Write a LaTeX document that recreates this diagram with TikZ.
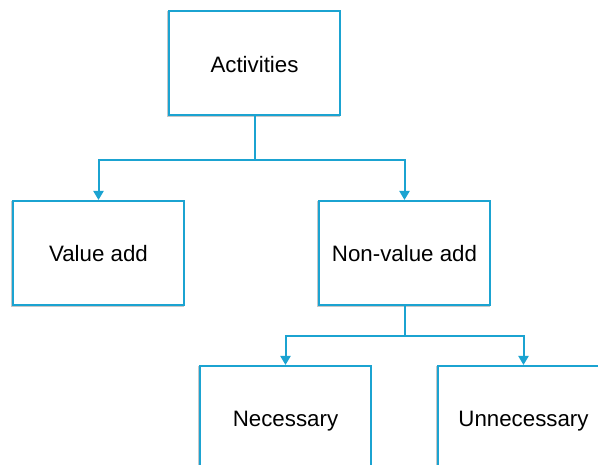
\documentclass[tikz,border=0pt]{standalone}
\usepackage{fontspec}
\setmainfont{Liberation Sans}
\usetikzlibrary{arrows.meta}
\definecolor{linkblue}{RGB}{27,163,209}
\tikzset{
  box/.style={draw=linkblue, line width=2pt, fill=white,
    minimum width=171pt, minimum height=104pt, inner sep=0pt,
    text height=17.5pt, text depth=0pt,
    font=\fontsize{22.3}{26}\selectfont,
    preaction={draw=black!22, line width=2pt,
      transform canvas={xshift=-1pt, yshift=-1pt}}},
  link/.style={draw=linkblue, line width=2pt,
    -{Triangle[width=10pt,length=9pt]}},
}
\begin{document}
\begin{tikzpicture}[x=1pt, y=-1pt]
  \useasboundingbox (0,0) rectangle (598,465);
  \clip (0,0) rectangle (598,465);
  \fill[white] (0,0) rectangle (598,465);

  % boxes of the activity breakdown
  \node[box] (act) at (254.5,63.5)  {Activities};
  \node[box] (va)  at (98.5,253)    {Value add};
  \node[box] (nva) at (404.5,253)   {Non-value add};
  \node[box] (nec) at (285.5,418)   {Necessary};
  \node[box] (unn) at (523.5,418)   {Unnecessary};

  % elbow connectors
  \draw[link] (act.south) -- ++(0,43.5) -| (va.north);
  \draw[link] (act.south) -- ++(0,43.5) -| (nva.north);
  \draw[link] (nva.south) -- ++(0,30.5) -| (nec.north);
  \draw[link] (nva.south) -- ++(0,30.5) -| (unn.north);
\end{tikzpicture}
\end{document}
